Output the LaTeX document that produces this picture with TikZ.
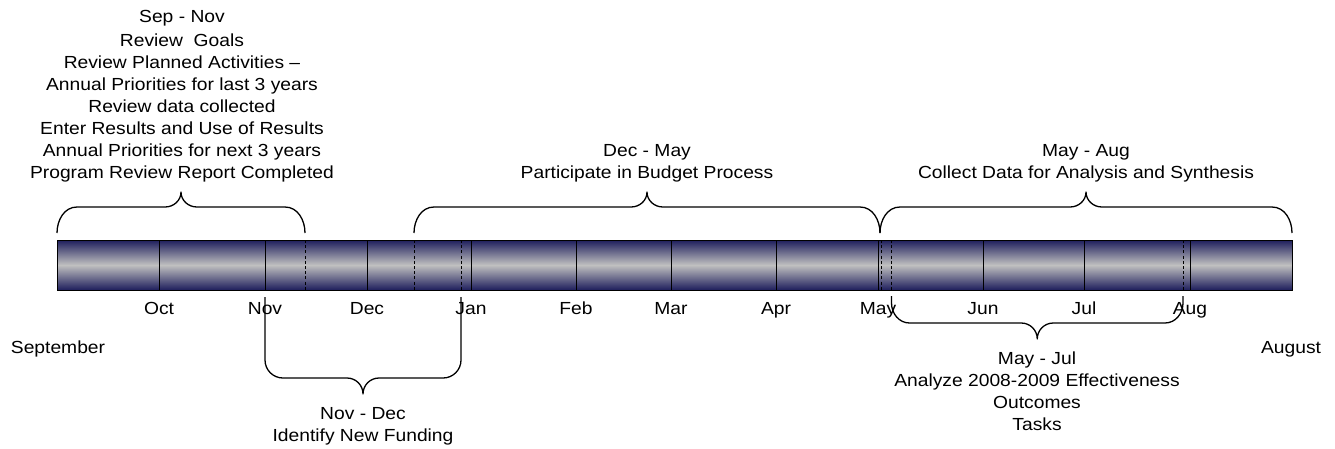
\documentclass[tikz,border=0pt]{standalone}
\usepackage{fontspec}
\setmainfont{Liberation Sans}[FakeStretch=1.1]
\usetikzlibrary{positioning,calc}
\definecolor{barnavy}{RGB}{30,30,92}
\definecolor{barsilver}{RGB}{192,192,192}
\tikzset{
  month/.style={font=\fontsize{17.5}{22}\selectfont,inner sep=0pt,anchor=base},
  note/.style={font=\fontsize{17.5}{22}\selectfont,align=center,inner sep=0pt,anchor=north},
  bar/.style={draw=black,line width=1pt,top color=barnavy,bottom color=barnavy,middle color=barsilver,inner sep=0pt},
  tick/.style={line width=0.8pt},
  dtick/.style={line width=0.8pt,dash pattern=on 3pt off 2.2pt},
  brace/.style={line width=1.3pt,line join=round},
}
% brace over the bar: left x, right x, end y, flat y, tip y
\newcommand{\upbrace}[5]{%
  \pgfmathsetmacro{\bmid}{(#1+#2)/2}
  \draw[brace] (#1,#3) to[out=90,in=180] (#1+20,#4) -- (\bmid-16,#4)
    to[out=0,in=-90] (\bmid,#5) to[out=-90,in=180] (\bmid+16,#4)
    -- (#2-20,#4) to[out=0,in=90] (#2,#3);
}
% brace under the bar: left x, right x, start y, corner y, flat y, tip y
\newcommand{\downbrace}[6]{%
  \pgfmathsetmacro{\bmid}{(#1+#2)/2}
  \draw[brace] (#1,#3) -- (#1,#4) to[out=-90,in=180] (#1+18,#5) -- (\bmid-16,#5)
    to[out=0,in=90] (\bmid,#6) to[out=90,in=180] (\bmid+16,#5)
    -- (#2-18,#5) to[out=0,in=-90] (#2,#4) -- (#2,#3);
}

\begin{document}
\begin{tikzpicture}[x=1pt,y=-1pt]
  \useasboundingbox (0,0) rectangle (1335,448);

  % the year bar
  \node[bar,minimum width=1235pt,minimum height=50pt] (year) at (674.5,265) {};

  % month lines
  \draw[tick] (159,240) -- (159,290);
  \draw[tick] (265,240) -- (265,290);
  \draw[tick] (367,240) -- (367,290);
  \draw[tick] (471,240) -- (471,290);
  \draw[tick] (576,240) -- (576,290);
  \draw[tick] (671,240) -- (671,290);
  \draw[tick] (776,240) -- (776,290);
  \draw[tick] (878,240) -- (878,290);
  \draw[tick] (983,240) -- (983,290);
  \draw[tick] (1084,240) -- (1084,290);
  \draw[tick] (1190,240) -- (1190,290);

  % phase limits
  \draw[dtick] (305,240) -- (305,290);
  \draw[dtick] (414,240) -- (414,290);
  \draw[dtick] (461,240) -- (461,290);
  \draw[dtick] (881,240) -- (881,290);
  \draw[dtick] (891.5,240) -- (891.5,290);
  \draw[dtick] (1183,240) -- (1183,290);

  % month names
  \node[month] (oct) at (159,314) {Oct};
  \node[month] (nov) at (265,314) {Nov};
  \node[month] (dec) at (367,314) {Dec};
  \node[month] (jan) at (471,314) {Jan};
  \node[month] (feb) at (576,314) {Feb};
  \node[month] (mar) at (671,314) {Mar};
  \node[month] (apr) at (776,314) {Apr};
  \node[month] (may) at (878,314) {May};
  \node[month] (jun) at (983,314) {Jun};
  \node[month] (jul) at (1084,314) {Jul};
  \node[month] (aug) at (1190,314) {Aug};
  \node[month] (start) at (58,353) {September};
  \node[month] (finish) at (1291,353) {August};

  % phases above
  \upbrace{57}{305}{233}{207}{192}
  \upbrace{414}{880}{233}{207}{192}
  \upbrace{880}{1292}{233}{207}{192}
  \node[note] (review) at (182,10) {Sep - Nov\\[2pt]Review\ \ Goals\\Review Planned Activities --\\Annual Priorities for last 3 years\\Review data collected\\Enter Results and Use of Results\\Annual Priorities for next 3 years\\Program Review Report Completed};
  \node[note] (budget) at (647,144) {Dec - May\\Participate in Budget Process};
  \node[note] (collect) at (1086,144) {May - Aug\\Collect Data for Analysis and Synthesis};

  % phases below
  \downbrace{265}{461}{297}{360}{378}{394}
  \downbrace{891.5}{1183}{296}{303}{323}{339}
  \node[note] (funding) at (363,407) {Nov - Dec\\Identify New Funding};
  \node[note] (analyze) at (1037,352) {May - Jul\\Analyze 2008-2009 Effectiveness\\Outcomes\\Tasks};
\end{tikzpicture}
\end{document}
